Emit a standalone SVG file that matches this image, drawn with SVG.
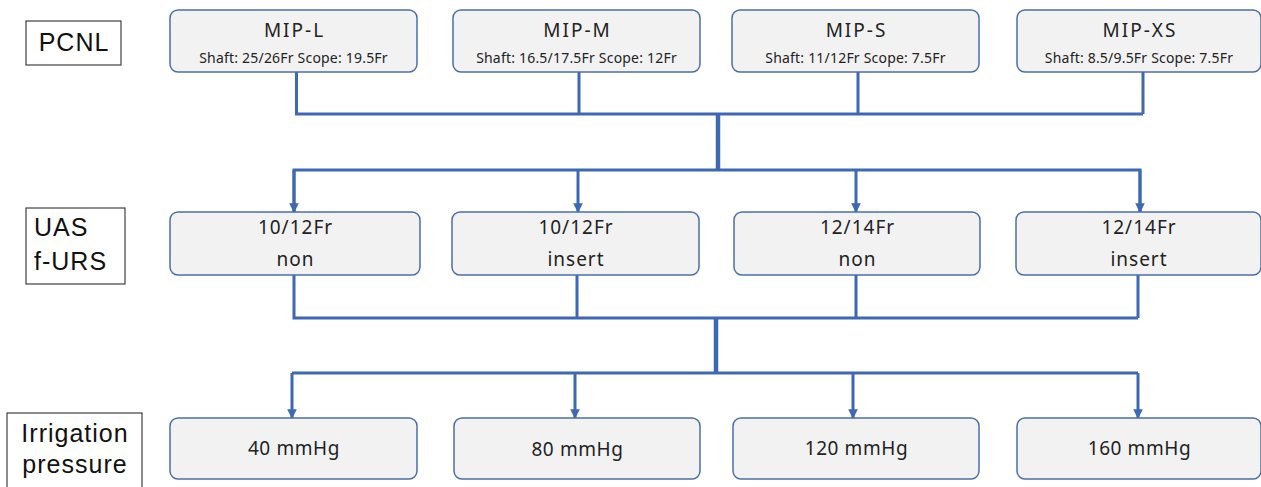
<svg xmlns="http://www.w3.org/2000/svg" width="1261" height="487" viewBox="0 0 1261 487">
<style>
.box{fill:#F2F2F2;stroke:#4A6FA8;stroke-width:1.5}
.lab{fill:#FFFFFF;stroke:#404040;stroke-width:1.2}
.t{font-family:"Noto Sans","Noto Sans CJK JP",sans-serif;fill:#222;text-anchor:middle}
.title{font-size:19px;letter-spacing:2px}
.row{font-size:19px;letter-spacing:1px}
.pr{font-size:19px;letter-spacing:0.6px}
.small{font-size:14px;letter-spacing:0.2px}
.side{font-family:"Liberation Sans",Arial,sans-serif;fill:#111;font-size:25px;letter-spacing:1px}
.c{fill:none;stroke:#3D68B3;stroke-width:3}
.trunk{fill:none;stroke:#3D68B3;stroke-width:4.5}
</style>
<defs>
<marker id="ah" viewBox="0 0 10 10" refX="9" refY="5" markerWidth="3.2" markerHeight="3.6" orient="auto" markerUnits="strokeWidth">
<path d="M0,0 L10,5 L0,10 z" fill="#3D68B3"/>
</marker>
</defs>
<rect width="1261" height="487" fill="#FFFFFF"/>

<g id="labels">
<g id="lab-pcnl"><rect class="lab" x="26" y="21" width="95" height="44"/><text class="side" x="74" y="51" text-anchor="middle">PCNL</text></g>
<g id="lab-uas"><rect class="lab" x="26" y="208" width="99" height="76"/><text class="side" x="34" y="236">UAS</text><text class="side" x="34" y="270">f-URS</text></g>
<g id="lab-irr"><rect class="lab" x="7" y="413" width="135" height="80"/><text class="side" x="75" y="442" text-anchor="middle">Irrigation</text><text class="side" x="75" y="473" text-anchor="middle">pressure</text></g>
</g>

<g id="connectors">
<path class="c" d="M296.5,72 V114 H1143 M579,72 V114 M858,72 V114 M1143,72 V114"/>
<path class="trunk" d="M718,114 V170"/>
<path class="c" d="M294,212 V170 H1140 V212"/>
<path class="c" marker-end="url(#ah)" d="M294,170 V212"/>
<path class="c" marker-end="url(#ah)" d="M578,170 V212"/>
<path class="c" marker-end="url(#ah)" d="M856,170 V212"/>
<path class="c" marker-end="url(#ah)" d="M1140,170 V212"/>
<path class="c" d="M294,275 V318 H1138 M577,275 V318 M856,275 V318 M1138,275 V318"/>
<path class="trunk" d="M716,318 V373"/>
<path class="c" d="M292,373 H1138"/>
<path class="c" marker-end="url(#ah)" d="M292,373 V418"/>
<path class="c" marker-end="url(#ah)" d="M575,373 V418"/>
<path class="c" marker-end="url(#ah)" d="M853,373 V418"/>
<path class="c" marker-end="url(#ah)" d="M1138,373 V418"/>
</g>

<g id="n-mip-l"><rect class="box" x="170" y="10" width="247" height="62" rx="8"/><text class="t title" x="294.5" y="37">MIP-L</text><text class="t small" x="293.5" y="63">Shaft: 25/26Fr Scope: 19.5Fr</text></g>
<g id="n-mip-m"><rect class="box" x="453" y="10" width="247" height="62" rx="8"/><text class="t title" x="577.5" y="37">MIP-M</text><text class="t small" x="576.5" y="63">Shaft: 16.5/17.5Fr Scope: 12Fr</text></g>
<g id="n-mip-s"><rect class="box" x="732" y="10" width="247" height="62" rx="8"/><text class="t title" x="856.5" y="37">MIP-S</text><text class="t small" x="855.5" y="63">Shaft: 11/12Fr Scope: 7.5Fr</text></g>
<g id="n-mip-xs"><rect class="box" x="1017" y="10" width="244" height="62" rx="8"/><text class="t title" x="1140" y="37">MIP-XS</text><text class="t small" x="1139" y="63">Shaft: 8.5/9.5Fr Scope: 7.5Fr</text></g>

<g id="n-uas1"><rect class="box" x="170" y="212" width="250" height="63" rx="8"/><text class="t row" x="295.5" y="234">10/12Fr</text><text class="t row" x="295.5" y="266">non</text></g>
<g id="n-uas2"><rect class="box" x="452" y="212" width="247" height="63" rx="8"/><text class="t row" x="576" y="234">10/12Fr</text><text class="t row" x="576" y="266">insert</text></g>
<g id="n-uas3"><rect class="box" x="734" y="212" width="246" height="63" rx="8"/><text class="t row" x="857.5" y="234">12/14Fr</text><text class="t row" x="857.5" y="266">non</text></g>
<g id="n-uas4"><rect class="box" x="1016" y="212" width="245" height="63" rx="8"/><text class="t row" x="1139" y="234">12/14Fr</text><text class="t row" x="1139" y="266">insert</text></g>

<g id="n-p40"><rect class="box" x="170" y="418" width="247" height="61" rx="8"/><text class="t pr" x="294" y="455">40 mmHg</text></g>
<g id="n-p80"><rect class="box" x="454" y="418" width="246" height="61" rx="8"/><text class="t pr" x="577.5" y="456">80 mmHg</text></g>
<g id="n-p120"><rect class="box" x="733" y="418" width="246" height="61" rx="8"/><text class="t pr" x="856.5" y="455">120 mmHg</text></g>
<g id="n-p160"><rect class="box" x="1017" y="418" width="244" height="61" rx="8"/><text class="t pr" x="1139.5" y="455">160 mmHg</text></g>
</svg>
